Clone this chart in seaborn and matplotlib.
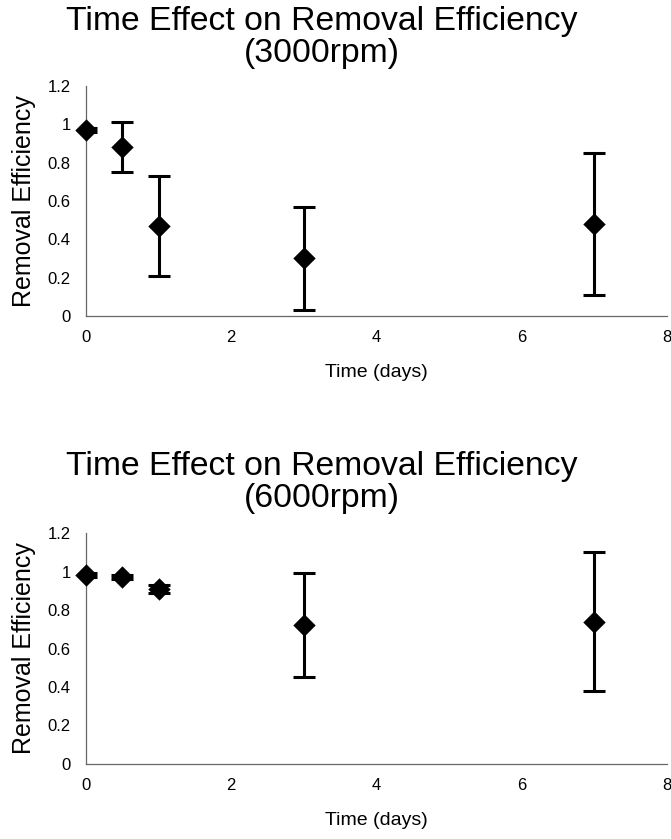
import numpy as np
import pandas as pd
import seaborn as sns
import matplotlib
matplotlib.use("Agg")
import matplotlib.pyplot as plt

# values
time_days = [0, 0.5, 1, 3, 7]
eff_3000 = [0.97, 0.88, 0.47, 0.30, 0.48]
err_3000 = [0.01, 0.13, 0.26, 0.27, 0.37]
eff_6000 = [0.98, 0.97, 0.91, 0.72, 0.74]
err_6000 = [0.01, 0.01, 0.02, 0.27, 0.36]
panels = ["(3000rpm)", "(6000rpm)"]
yticks = [0, 0.2, 0.4, 0.6, 0.8, 1.0, 1.2]
ytick_labels = ["0", "0.2", "0.4", "0.6", "0.8", "1", "1.2"]
xticks = [0, 2, 4, 6, 8]

sns.set_style("white")
plt.rcParams['font.family'] = ['Liberation Sans', 'DejaVu Sans']
plt.rcParams['text.color'] = 'black'
plt.rcParams['axes.labelcolor'] = 'black'
plt.rcParams['xtick.labelcolor'] = 'black'
plt.rcParams['ytick.labelcolor'] = 'black'

fig = plt.figure(figsize=(6.71, 8.39), dpi=100)
ax_pos = [[0.128, 0.6234, 0.866, 0.274], [0.128, 0.0894, 0.866, 0.2753]]
title_y = [0.9553, 0.4249]

for eff, err, rpm, pos, ty in zip([eff_3000, eff_6000], [err_3000, err_6000], panels, ax_pos, title_y):
    ax = fig.add_axes(pos)
    df = pd.DataFrame({"time": time_days, "eff": eff, "err": err})
    ax.errorbar(df["time"], df["eff"], yerr=df["err"], fmt="none", ecolor="black",
                elinewidth=2.2, capsize=8, capthick=2.2, zorder=2)
    sns.scatterplot(data=df, x="time", y="eff", marker="D", s=130, color="black",
                    edgecolor="black", linewidth=0, ax=ax, zorder=3, clip_on=False)
    ax.set_xlim(0, 8)
    ax.set_ylim(0, 1.2)
    ax.set_xticks(xticks)
    ax.set_yticks(yticks)
    ax.set_yticklabels(ytick_labels)
    ax.tick_params(axis="both", labelsize=12, length=3, width=0.8, color="#555555", direction="out")
    ax.tick_params(axis="y", pad=8)
    ax.tick_params(axis="x", pad=7)
    ax.set_xlabel("Time (days)", fontsize=14, labelpad=14)
    ax.set_ylabel("Removal Efficiency", fontsize=18, labelpad=8)
    sns.despine(ax=ax)
    for s in ["left", "bottom"]:
        ax.spines[s].set_color("#666666")
        ax.spines[s].set_linewidth(0.9)
    fig.text(0.48, ty, "Time Effect on Removal Efficiency\n" + rpm, ha="center", va="center",
             fontsize=24.3, linespacing=1.05)

fig.savefig("out.png", dpi=100)
